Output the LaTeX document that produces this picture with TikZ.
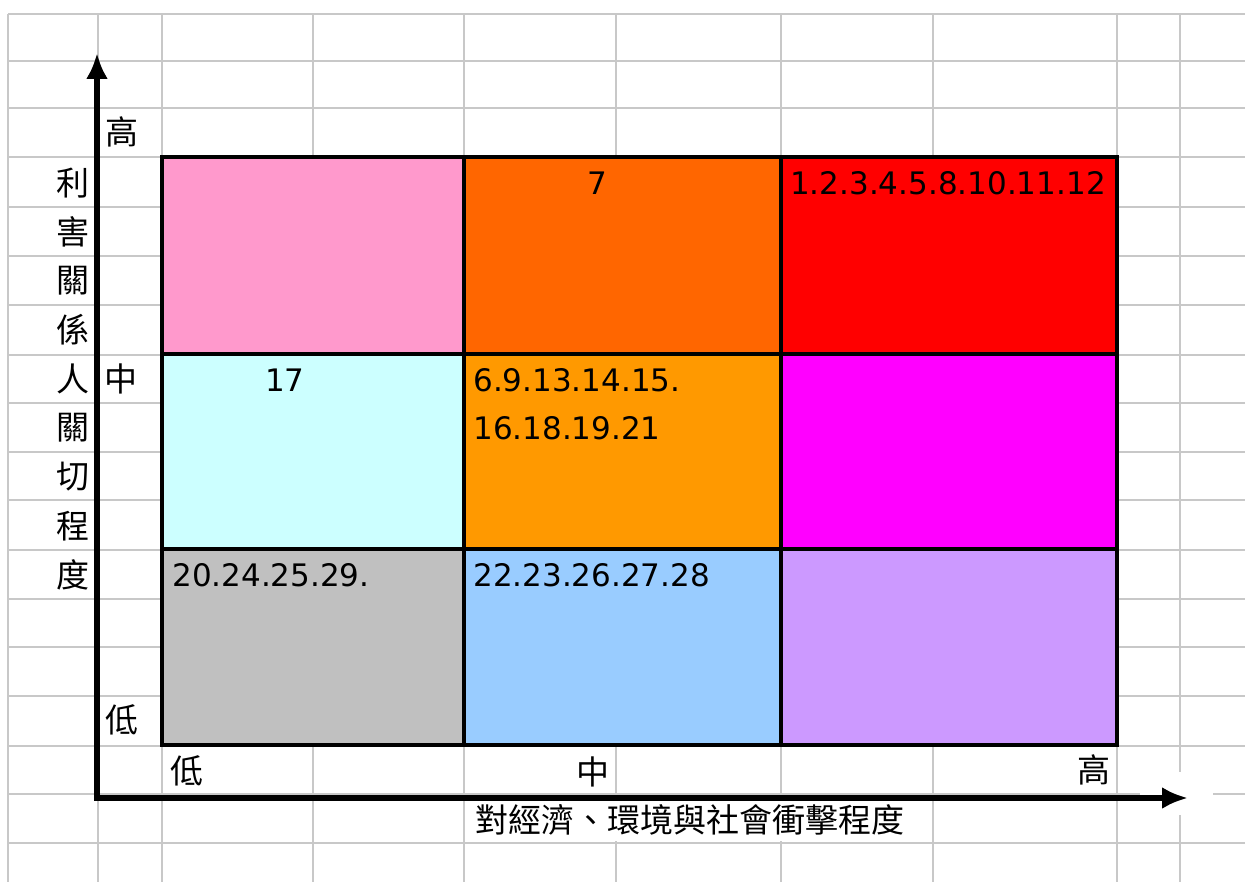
\documentclass[tikz,border=0pt]{standalone}
\usepackage{fontspec}
\setmainfont{DejaVu Sans}
\newfontfamily\cjk{Noto Sans CJK TC}
\usetikzlibrary{arrows.meta}
\definecolor{cpink}{HTML}{FF99CC}
\definecolor{corange}{HTML}{FF6600}
\definecolor{cred}{HTML}{FF0000}
\definecolor{ccyan}{HTML}{CCFFFF}
\definecolor{camber}{HTML}{FF9900}
\definecolor{cmagenta}{HTML}{FF00FF}
\definecolor{cgray}{HTML}{C0C0C0}
\definecolor{cblue}{HTML}{99CCFF}
\definecolor{clavender}{HTML}{CC99FF}
\definecolor{gridgray}{HTML}{C8C8C8}
\begin{document}
\begin{tikzpicture}[x=0.5pt,y=-0.5pt,
	gridline/.style={gridgray,line width=0.75pt},
	cell/.style={draw=black,line width=2pt},
	num/.style={font=\fontsize{15.5}{18}\selectfont,inner sep=0pt},
	zh/.style={font=\cjk\fontsize{16.5}{18}\selectfont,inner sep=0pt},
	axis/.style={line width=2.75pt,line join=miter,{Latex[length=13pt,width=11pt]}-{Latex[length=13pt,width=11pt]}}]
		\useasboundingbox (0,0) rectangle (1245,882);
		\fill[white] (0,0) rectangle (1245,882);
		\foreach \x in {8,98,162,313,464,616,781,933,1117,1180}
		\draw[gridline] (\x,14)--(\x,882); %网格线
		\foreach \y in {14,61,108,157,207,256,305,355,403,452,500,550,599,647,696,746,794,843}
		\draw[gridline] (8,\y)--(1245,\y);
		\fill[white] (1140,772) rectangle (1213,815);
		% 九宫格
		\filldraw[cell,fill=cpink] (162,157) rectangle (464,354);
		\filldraw[cell,fill=corange] (464,157) rectangle (781,354);
		\filldraw[cell,fill=cred] (781,157) rectangle (1117,354);
		\filldraw[cell,fill=ccyan] (162,354) rectangle (464,549);
		\filldraw[cell,fill=camber] (464,354) rectangle (781,549);
		\filldraw[cell,fill=cmagenta] (781,354) rectangle (1117,549);
		\filldraw[cell,fill=cgray] (162,549) rectangle (464,745);
		\filldraw[cell,fill=cblue] (464,549) rectangle (781,745);
		\filldraw[cell,fill=clavender] (781,549) rectangle (1117,745);
		\node[num] (hm) at (597,183) {7};
		\node[num] (hh) at (948,183) {1.2.3.4.5.8.10.11.12};
		\node[num] (ml) at (285,380) {17};
		\node[num,anchor=west] (mm1) at (473,380) {6.9.13.14.15.};
		\node[num,anchor=west] (mm2) at (473,428) {16.18.19.21};
		\node[num,anchor=west] (ll) at (172,575) {20.24.25.29.};
		\node[num,anchor=west] (lm) at (473,575) {22.23.26.27.28};
		% 坐标轴
		\node[zh,fill=white,inner sep=3pt] (xlabel) at (690,820) {對經濟、環境與社會衝擊程度};
		\foreach \c [count=\i from 0] in {利,害,關,係,人,關,切,程,度}
		\node[zh] (ylabel\i) at (73,183+49*\i) {\c};
		\node[zh] (yhigh) at (122,132) {高};
		\node[zh] (ymid) at (121,379) {中};
		\node[zh] (ylow) at (122,720) {低};
		\node[zh] (xlow) at (187,771) {低};
		\node[zh] (xmid) at (593,772) {中};
		\node[zh] (xhigh) at (1094,770) {高};
		\coordinate (o) at (97,798);
		\coordinate (ytip) at (97,53);
		\coordinate (xtip) at (1188,798);
		\draw[axis] (ytip)--(o)--(xtip);
	\end{tikzpicture}
\end{document}
